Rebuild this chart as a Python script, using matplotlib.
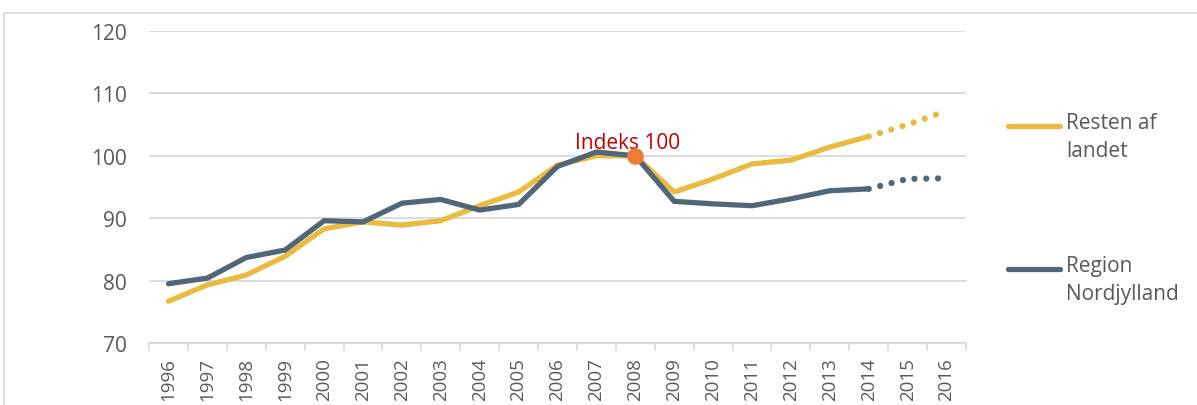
import matplotlib.pyplot as plt
from matplotlib.patches import Rectangle

years = list(range(1996, 2017))
resten = [76.7, 79.3, 80.9, 83.9, 88.3, 89.4, 88.9, 89.6, 92.0, 94.2,
          98.5, 100.0, 100.0, 94.2, 96.3, 98.7, 99.3, 101.4, 103.1, 105.0, 107.2]
nordjylland = [79.5, 80.4, 83.7, 84.9, 89.6, 89.4, 92.4, 93.0, 91.3, 92.2,
               98.3, 100.6, 100.0, 92.7, 92.3, 92.0, 93.1, 94.4, 94.7, 96.3, 96.4]
last_actual = 2014
yticks = [70, 80, 90, 100, 110, 120]

yellow = '#E9BC41'
blue = '#52667A'
grey_txt = '#595959'

plt.rcParams['font.family'] = ['Open Sans', 'DejaVu Sans']

fig = plt.figure(figsize=(11.97, 4.06), dpi=100)
ax = fig.add_axes([149/1197, 62/406, (966-149)/1197, 312/406])

# outer frame
fig.patches.append(Rectangle((4/1197, -0.05), 1.1, 1 - 14/406 + 0.05, transform=fig.transFigure,
                             fill=False, edgecolor='#D9D9D9', linewidth=1.2))

k = years.index(last_actual) + 1
for vals, col in [(resten, yellow), (nordjylland, blue)]:
    ax.plot(years[:k], vals[:k], color=col, lw=3.8, solid_capstyle='round', solid_joinstyle='round', zorder=3)
    ax.plot(years[k-1:], vals[k-1:], color=col, lw=4.5, linestyle=(0, (0.01, 1.87)),
            dash_capstyle='round', zorder=3)

ax.plot([2008], [100], 'o', color='#ED7D31', markersize=11, zorder=4)
ax.text(2007.8, 101.3, 'Indeks 100', color='#C00000', fontsize=15, ha='center', va='baseline')

ax.set_xlim(1995.5, 2016.5)
ax.set_ylim(70, 120)
ax.set_yticks(yticks)
ax.yaxis.grid(True, color='#D9D9D9', lw=1.3)
ax.set_axisbelow(True)
ax.set_xticks(years)
ax.set_xticklabels([str(y) for y in years], rotation=90, fontsize=13.5, color=grey_txt, va='top')
ax.set_xticks([y + 0.5 for y in [years[0] - 1] + years], minor=True)
ax.tick_params(axis='x', which='major', length=0, pad=10)
ax.tick_params(axis='x', which='minor', length=6, color='#D9D9D9', width=1.2)
ax.tick_params(axis='y', length=0, labelsize=15, labelcolor=grey_txt, pad=16)
for s in ['top', 'right', 'left']:
    ax.spines[s].set_visible(False)
ax.spines['bottom'].set_color('#D9D9D9')
ax.spines['bottom'].set_linewidth(1.3)

# legend drawn by hand at the right
for (y_line, col, lab) in [(127, yellow, 'Resten af\nlandet'), (270, blue, 'Region\nNordjylland')]:
    yf = 1 - y_line/406
    fig.add_artist(plt.Line2D([1008/1197, 1060/1197], [yf, yf], color=col, lw=3.8,
                              solid_capstyle='round', transform=fig.transFigure))
    fig.text(1066/1197, yf + 14/406, lab, fontsize=15, color=grey_txt, va='top', ha='left',
             linespacing=1.45)

fig.savefig('out.png', dpi=100)
